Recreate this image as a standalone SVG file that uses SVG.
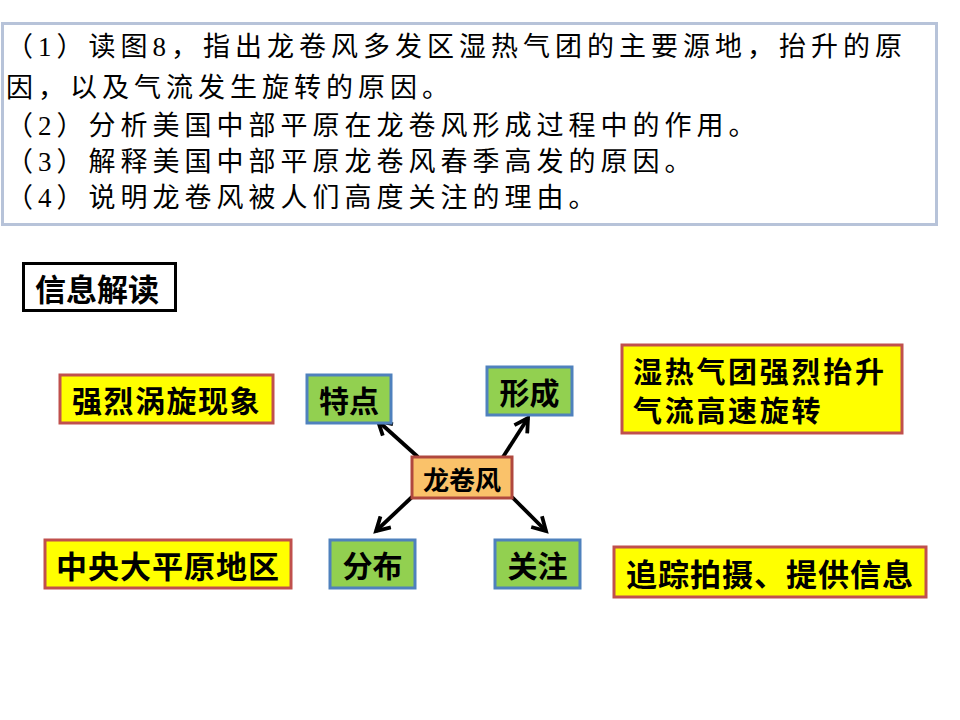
<svg xmlns="http://www.w3.org/2000/svg" width="960" height="720" viewBox="0 0 960 720">
<style>
.q{font-family:"Liberation Serif","Noto Sans CJK SC",serif;font-size:27px;letter-spacing:5px;fill:#000}
.b{font-family:"Noto Sans CJK SC","Liberation Sans",sans-serif;font-weight:bold;fill:#000;text-anchor:middle;dominant-baseline:central}
.bl{font-family:"Noto Sans CJK SC","Liberation Sans",sans-serif;font-weight:bold;fill:#000;text-anchor:start;dominant-baseline:central}
.green{fill:#92D050;stroke:#4F81BD;stroke-width:3}
.yellow{fill:#FFFF00;stroke:#C0504D;stroke-width:3}
.orange{fill:#FAC26A;stroke:#B0483E;stroke-width:3}
.arrow{stroke:#000;stroke-width:3.8;fill:none;marker-end:url(#ah)}
</style>
<defs>
<marker id="ah" viewBox="0 0 10 10" refX="8" refY="5" markerWidth="5" markerHeight="5" orient="auto" markerUnits="strokeWidth">
<path d="M1,1 L8,5 L1,9" fill="none" stroke="#000" stroke-width="2" stroke-linejoin="miter"/>
</marker>
</defs>
<rect width="960" height="720" fill="#fff"/>
<g id="question">
<rect x="2.5" y="23.5" width="934" height="201" fill="#fff" stroke="#B7C3D9" stroke-width="3"/>
<text class="q" x="6" y="56">（1）读图8，指出龙卷风多发区湿热气团的主要源地，抬升的原</text>
<text class="q" x="6" y="97">因，以及气流发生旋转的原因。</text>
<text class="q" x="6" y="135">（2）分析美国中部平原在龙卷风形成过程中的作用。</text>
<text class="q" x="6" y="171">（3）解释美国中部平原龙卷风春季高发的原因。</text>
<text class="q" x="6" y="207">（4）说明龙卷风被人们高度关注的理由。</text>
</g>
<g id="info-title">
<rect x="23.5" y="263.5" width="152" height="47" fill="#fff" stroke="#000" stroke-width="3"/>
<text class="b" x="97" y="287" font-size="31">信息解读</text>
</g>
<g id="connectors">
<line class="arrow" x1="418" y1="457" x2="378" y2="421"/>
<line class="arrow" x1="503" y1="457" x2="528" y2="418"/>
<line class="arrow" x1="412" y1="497" x2="376" y2="531"/>
<line class="arrow" x1="512" y1="497" x2="546" y2="531"/>
</g>
<g id="tornado">
<rect class="orange" x="412" y="457" width="100" height="41"/>
<text class="b" x="462" y="478" font-size="26">龙卷风</text>
</g>
<g id="tedian">
<rect class="green" x="307" y="375" width="84" height="48"/>
<text class="b" x="349" y="399" font-size="30">特点</text>
</g>
<g id="xingcheng">
<rect class="green" x="487" y="367" width="85" height="48"/>
<text class="b" x="529.5" y="391" font-size="30">形成</text>
</g>
<g id="fenbu">
<rect class="green" x="330" y="540" width="85" height="48"/>
<text class="b" x="372.5" y="564" font-size="30">分布</text>
</g>
<g id="guanzhu">
<rect class="green" x="495" y="540" width="85" height="48"/>
<text class="b" x="537.5" y="564" font-size="30">关注</text>
</g>
<g id="vortex">
<rect class="yellow" x="60" y="375" width="213" height="48"/>
<text class="b" x="166.5" y="399" font-size="30" letter-spacing="1.5">强烈涡旋现象</text>
</g>
<g id="plain">
<rect class="yellow" x="45" y="540" width="246" height="48"/>
<text class="b" x="168" y="564" font-size="31" letter-spacing="1">中央大平原地区</text>
</g>
<g id="formation">
<rect class="yellow" x="622" y="345" width="280" height="88"/>
<text class="bl" x="633" y="370" font-size="29" letter-spacing="2.7">湿热气团强烈抬升</text>
<text class="bl" x="633" y="409" font-size="29" letter-spacing="2.7">气流高速旋转</text>
</g>
<g id="attention">
<rect class="yellow" x="614" y="547" width="312" height="50"/>
<text class="b" x="770" y="572" font-size="31" letter-spacing="1">追踪拍摄、提供信息</text>
</g>
</svg>
